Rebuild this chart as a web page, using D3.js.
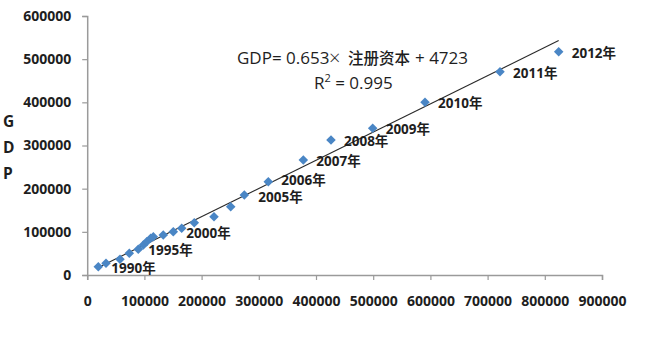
<!DOCTYPE html>
<html>
<head>
<meta charset="utf-8">
<script src="https://cdn.jsdelivr.net/npm/d3@7"></script>
<style>
  html, body { margin: 0; padding: 0; background: #fff; }
  svg { display: block; }
</style>
</head>
<body>
<svg id="chart" width="660" height="348"></svg>
<script>
// 注册资本 (x) and GDP (y), 1990–2012
const years = [1990, 1991, 1992, 1993, 1994, 1995, 1996, 1997, 1998, 1999, 2000,
  2001, 2002, 2003, 2004, 2005, 2006, 2007, 2008, 2009, 2010, 2011, 2012];
const capital = [19400, 32900, 57300, 73600, 89300, 98100, 104000, 111000, 115600, 133000, 150500,
  165200, 187200, 221700, 250900, 274700, 316600, 377800, 426200, 499100, 590600, 721700, 824300];
const gdp = [19200, 27100, 36400, 50300, 59500, 69500, 77100, 85000, 88700, 92700, 100300,
  108200, 121100, 135000, 158200, 185300, 216100, 266400, 312700, 339800, 400000, 470900, 517300];
const labelledYears = [1990, 1995, 2000, 2005, 2006, 2007, 2008, 2009, 2010, 2011, 2012];

// fitted trend: GDP = 0.653 × 注册资本 + 4723, R² = 0.995
const slope = 0.653;
const intercept = 4723;
const r2 = 0.995;

const xTicks = [0, 100000, 200000, 300000, 400000, 500000, 600000, 700000, 800000, 900000];
const yTicks = [0, 100000, 200000, 300000, 400000, 500000, 600000];

const svg = d3.select("#chart");
const fontNum = "'Open Sans', 'Noto Sans CJK SC', sans-serif";

const x = d3.scaleLinear().domain([0, 900000]).range([87.2, 602]);
const y = d3.scaleLinear().domain([0, 600000]).range([275, 16]);

const axisColor = "#9a9a9a";

// y axis
const gy = svg.append("g").attr("transform", `translate(${x(0)},0)`)
  .call(d3.axisLeft(y).tickValues(yTicks).tickSize(5).tickPadding(11).tickFormat(d3.format("d")));
// x axis
const gx = svg.append("g").attr("transform", `translate(0,${y(0)})`)
  .call(d3.axisBottom(x).tickValues(xTicks).tickSize(5).tickPadding(16).tickFormat(d3.format("d")));

[gx, gy].forEach(g => {
  g.select(".domain").attr("stroke", axisColor).attr("stroke-width", 1.5);
  g.selectAll(".tick line").attr("stroke", axisColor).attr("stroke-width", 1.2);
  g.selectAll(".tick text")
    .attr("fill", "#1e1e1e")
    .attr("font-family", fontNum)
    .attr("font-weight", 700)
    .attr("font-size", 14);
});

// vertical axis title, one letter per line
["G", "D", "P"].forEach((ch, i) => {
  svg.append("text")
    .attr("x", 3).attr("y", 127 + i * 26)
    .attr("font-family", fontNum).attr("font-weight", 700).attr("font-size", 15.5)
    .attr("fill", "#1e1e1e")
    .text(ch);
});

// trend line across the data's x range
const xExt = d3.extent(capital);
svg.append("line")
  .attr("x1", x(xExt[0])).attr("y1", y(slope * xExt[0] + intercept))
  .attr("x2", x(xExt[1])).attr("y2", y(slope * xExt[1] + intercept))
  .attr("stroke", "#2a2a2a").attr("stroke-width", 1.1);

// diamond markers
const pts = years.map((yr, i) => ({ year: yr, cx: capital[i], gy: gdp[i] }));
const diamond = d3.symbol().type(d3.symbolDiamond2).size(58);
svg.append("g").selectAll("path").data(pts).join("path")
  .attr("d", diamond)
  .attr("transform", d => `translate(${x(d.cx)},${y(d.gy)})`)
  .attr("fill", "#4a86c5");

// year labels to the right of their markers
const labelShift = { 1995: [5, 5], 2005: [14, 2], 2006: [13, -2] };
svg.append("g").selectAll("text")
  .data(pts.filter(d => labelledYears.includes(d.year))).join("text")
  .attr("x", d => x(d.cx) + (labelShift[d.year] ? labelShift[d.year][0] : 13))
  .attr("y", d => y(d.gy) + (labelShift[d.year] ? labelShift[d.year][1] : 1))
  .attr("dy", "0.36em")
  .attr("font-family", fontNum).attr("font-weight", 700).attr("font-size", 13.5)
  .attr("fill", "#1e1e1e")
  .text(d => d.year + "年");

// regression equation
const eq = svg.append("g").attr("font-family", fontNum).attr("font-size", 17)
  .attr("font-weight", 500).attr("fill", "#1e1e1e");
eq.append("text").attr("x", 237).attr("y", 64)
  .text(`GDP= ${slope}`);
eq.append("text").attr("x", 329).attr("y", 65).attr("font-size", 20).attr("font-weight", 300).text("×");
eq.append("text").attr("x", 348).attr("y", 64).attr("font-size", 15.5)
  .attr("font-family", "'Noto Sans CJK SC', sans-serif").text("注册资本");
eq.append("text").attr("x", 415).attr("y", 64).text(`+ ${intercept}`);
const r2t = eq.append("text").attr("x", 314).attr("y", 89);
r2t.append("tspan").text("R");
r2t.append("tspan").attr("font-size", 11).attr("dy", -7).text("2");
r2t.append("tspan").attr("dy", 7).text(` = ${r2}`);
</script>
</body>
</html>
